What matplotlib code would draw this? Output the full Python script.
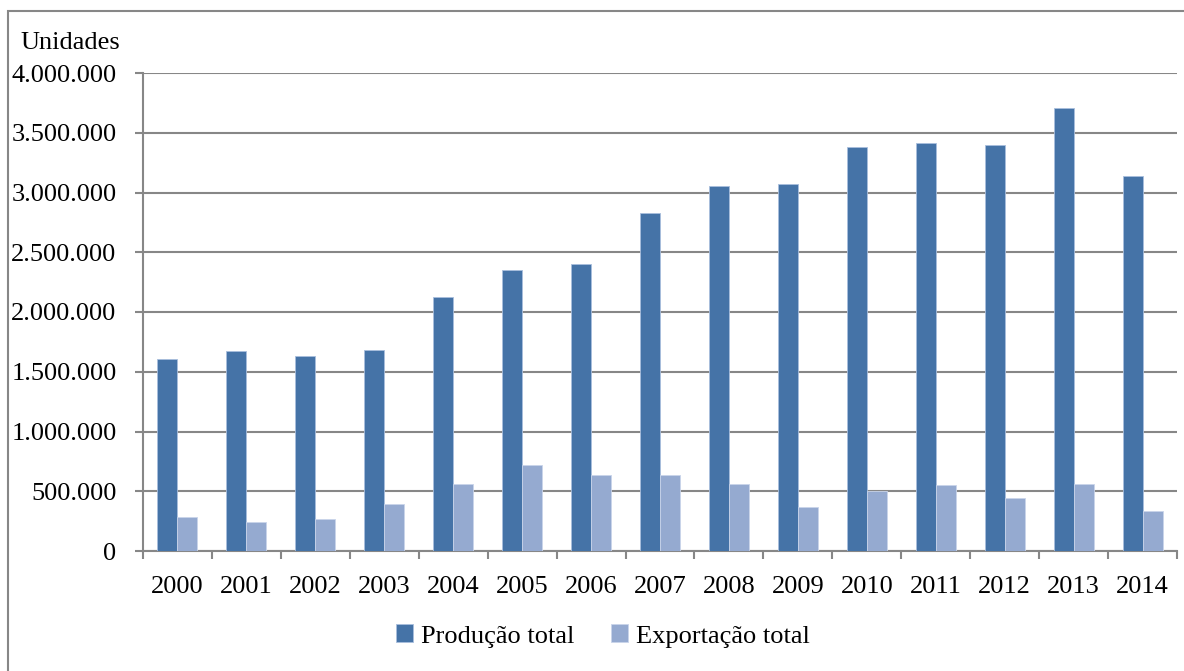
import matplotlib.pyplot as plt
import numpy as np
from matplotlib.patches import Rectangle

plt.rcParams['font.family'] = ['Liberation Serif', 'DejaVu Serif']

anos = ["2000", "2001", "2002", "2003", "2004", "2005", "2006", "2007",
        "2008", "2009", "2010", "2011", "2012", "2013", "2014"]
producao = [1603000, 1670000, 1630000, 1680000, 2122000, 2353000, 2398000, 2830000,
            3055000, 3071000, 3378000, 3414000, 3397000, 3710000, 3140000]
exportacao = [283000, 246000, 266000, 392000, 563000, 722000, 633000, 633000,
              563000, 367000, 499000, 550000, 443000, 563000, 332000]

cor_prod = "#4573A7"
cor_exp = "#95AAD0"
cinza = "#878787"

fig = plt.figure(figsize=(11.84, 6.71), dpi=100)
W, H = 1184, 671
ax = fig.add_axes([143 / W, 1 - 551 / H, (1177 - 143) / W, (551 - 73) / H])

# moldura externa
fig.patches.append(Rectangle((8 / W, -0.1), 1.2, 1 - 11 / H + 0.1, transform=fig.transFigure,
                             fill=False, edgecolor=cinza, linewidth=1.5))

x = np.arange(len(anos))
w = 0.29
ax.bar(x - w / 2, producao, w, color=cor_prod, edgecolor="#A9BEDD", linewidth=0.6,
       label="Produção total", zorder=3)
ax.bar(x + w / 2, exportacao, w, color=cor_exp, edgecolor="#C9D4EA", linewidth=0.6,
       label="Exportação total", zorder=3)

ax.set_xlim(-0.5, len(anos) - 0.5)
ax.set_ylim(0, 4000000)
ax.set_yticks(np.arange(0, 4000001, 500000))
ax.set_yticklabels([f"{v:,.0f}".replace(",", ".") for v in np.arange(0, 4000001, 500000)])
ax.set_xticks(x)
ax.set_xticklabels(anos)
ax.set_xticks(np.arange(-0.5, len(anos)), minor=True)
ax.tick_params(axis="x", which="major", length=0, pad=18, labelsize=19)
ax.tick_params(axis="x", which="minor", length=6, width=1.5, color=cinza, direction="out")
ax.tick_params(axis="y", length=6, width=1.5, color=cinza, pad=13, labelsize=19)

ax.grid(axis="y", color=cinza, linewidth=1.5, zorder=0)
for s in ["top", "right"]:
    ax.spines[s].set_visible(False)
for s in ["left", "bottom"]:
    ax.spines[s].set_color(cinza)
    ax.spines[s].set_linewidth(1.5)

fig.text(20 / W, 1 - 43 / H, "Unidades", fontsize=19, va="center", ha="left")

fig.legend(loc="center", bbox_to_anchor=(603 / W, 1 - 636 / H), ncol=2, frameon=False,
           fontsize=19, handlelength=0.65, handleheight=0.65, handletextpad=0.3,
           columnspacing=1.4)

fig.savefig("out.png", dpi=100)
